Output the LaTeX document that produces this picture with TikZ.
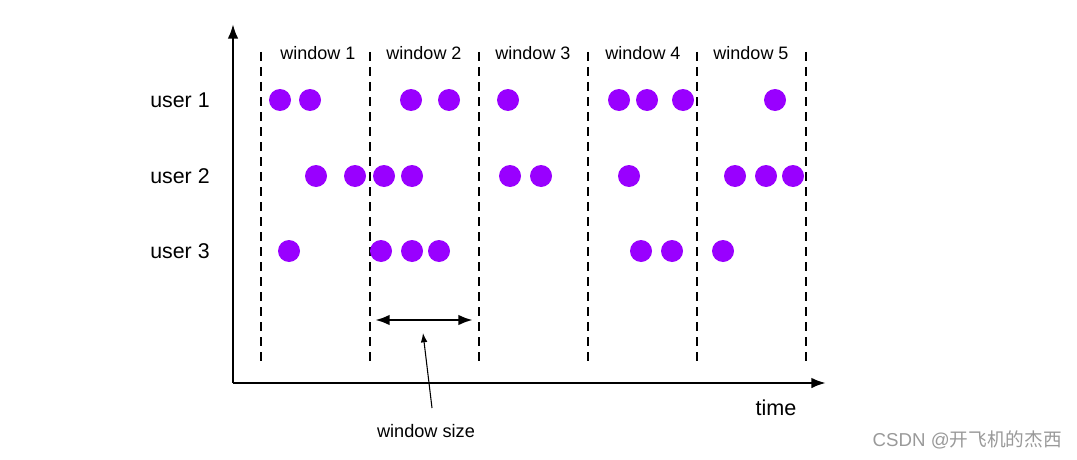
\documentclass[tikz,border=0pt]{standalone}
\usepackage{fontspec}
\setmainfont{Liberation Sans}
\newfontfamily\cjkfont{Noto Sans CJK SC}
\usetikzlibrary{arrows.meta}
\definecolor{dotpurple}{RGB}{153,0,255}
\tikzset{
  dotnode/.style={circle,fill=dotpurple,inner sep=0pt,minimum size=16.5pt},
  winline/.style={line width=1.8pt,dash pattern=on 6.75pt off 4.5pt},
  axisline/.style={line width=1.9pt,-{Latex[length=11pt,width=8pt]}},
  lbl/.style={inner sep=0pt,anchor=center},
}
\begin{document}
\begin{tikzpicture}[x=0.75pt,y=-0.75pt]
\useasboundingbox (0,0) rectangle (1077,460);
% axes
\coordinate (origin) at (233,383);
\coordinate (ytop) at (233,24);
\coordinate (xend) at (826,383);
\draw[axisline] (origin) -- (ytop);
\draw[axisline] (origin) -- (xend);
% window boundaries
\foreach \i/\x in {0/261,1/370,2/479,3/588,4/697,5/806}{
  \coordinate (wt\i) at (\x,52);
  \coordinate (wb\i) at (\x,363);
  \draw[winline] (wt\i) -- (wb\i);
}
% window labels
\foreach \i/\x in {1/318,2/424,3/533,4/643,5/751}{
  \node[lbl,font=\fontsize{13.5pt}{16pt}\selectfont] (wl\i) at (\x,53) {window \i};
}
% user labels
\foreach \i/\y in {1/100,2/176,3/251}{
  \node[lbl,font=\fontsize{16pt}{19pt}\selectfont] (u\i) at (180,\y) {user \i};
}
% dots
\foreach \x [count=\k] in {280,310,411,449,508,619,647,683,775}{
  \node[dotnode] (a\k) at (\x,100) {};
}
\foreach \x [count=\k] in {316,355,384,412,510,541,629,735,766,793}{
  \node[dotnode] (b\k) at (\x,176) {};
}
\foreach \x [count=\k] in {289,381,412,439,641,672,723}{
  \node[dotnode] (c\k) at (\x,251) {};
}
% window size arrow
\coordinate (wsl) at (375,320);
\coordinate (wsr) at (473,320);
\draw[line width=2pt,{Latex[length=11pt,width=8pt]}-{Latex[length=11pt,width=8pt]}] (wsl) -- (wsr);
\node[lbl,font=\fontsize{13.6pt}{16pt}\selectfont] (wsize) at (426,431) {window size};
\coordinate (ptrbot) at (432,408);
\coordinate (ptrtop) at (423,333);
\draw[line width=0.8pt,-{Latex[length=7pt,width=5pt]}] (ptrbot) -- (ptrtop);
% time
\node[lbl,font=\fontsize{16.2pt}{19pt}\selectfont] (time) at (776,408) {time};
% watermark
\node[lbl,anchor=east,text=black!40,font=\fontsize{14pt}{17pt}\selectfont] (wm) at (1062,440) {CSDN @{\cjkfont 开飞机的杰西}};
\end{tikzpicture}
\end{document}
